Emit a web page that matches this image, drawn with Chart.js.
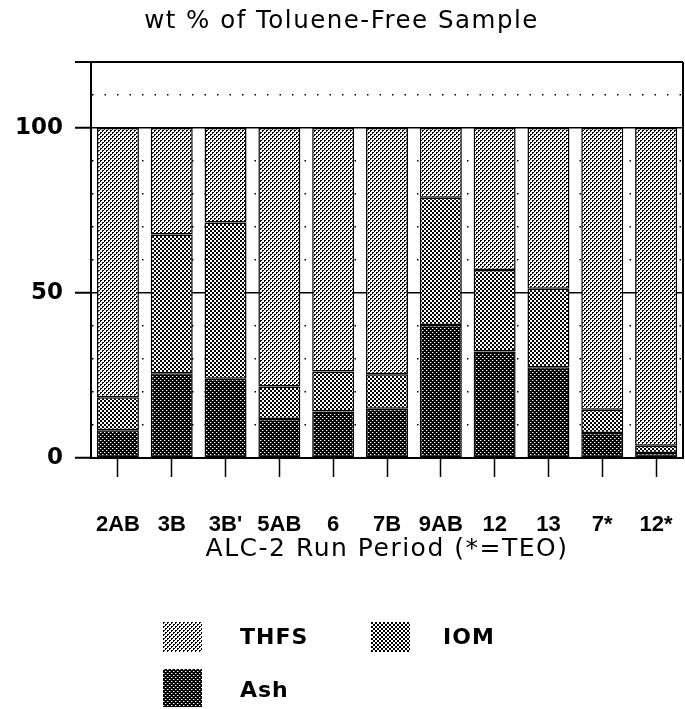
<!DOCTYPE html>
<html>
<head>
<meta charset="utf-8">
<script src="https://cdn.jsdelivr.net/npm/chart.js@4/dist/chart.umd.min.js"></script>
<style>
  html, body { margin: 0; padding: 0; background: #fff; }
  #wrap { position: relative; width: 685px; height: 709px; }
  #chart { position: absolute; left: 0; top: 0; }
  .lg-box { position: absolute; width: 39px; height: 30px; }
  .lg-txt { position: absolute; font: bold 22px 'DejaVu Sans', sans-serif; color: #000; line-height: 30px; letter-spacing: 1px; }
</style>
</head>
<body>
<div id="wrap">
  <canvas id="chart" width="685" height="709"></canvas>
  <div class="lg-box" id="lg-thfs" style="left:163px;top:622px"></div>
  <div class="lg-txt" style="left:240px;top:622px">THFS</div>
  <div class="lg-box" id="lg-iom" style="left:371px;top:622px"></div>
  <div class="lg-txt" style="left:443px;top:622px">IOM</div>
  <div class="lg-box" id="lg-ash" style="left:163px;top:669px;height:38px"></div>
  <div class="lg-txt" style="left:240px;top:675px">Ash</div>
</div>
<script>
const periods = ['2AB', '3B', "3B'", '5AB', '6', '7B', '9AB', '12', '13', '7*', '12*'];
const ash  = [8.4, 25.7, 24.0, 11.8, 14.1, 14.9, 40.3, 32.3, 27.5, 7.6, 1.5];
const iom  = [10.0, 42.0, 47.4, 9.9, 12.1, 10.5, 38.6, 24.7, 23.8, 7.0, 2.2];
const thfs = [81.6, 32.3, 28.6, 78.3, 73.8, 74.6, 21.1, 43.0, 48.7, 85.4, 96.3];
const yLabelled = [0, 50, 100];

// 4x4 halftone cells, value = ink (0 white .. 1 black)
function makePattern(bits) {
  const c = document.createElement('canvas');
  c.width = 4; c.height = 4;
  const g = c.getContext('2d');
  bits.forEach((row, y) => row.forEach((b, x) => {
    const v = Math.round(255 * (1 - b));
    g.fillStyle = `rgb(${v},${v},${v})`;
    g.fillRect(x, y, 1, 1);
  }));
  return c;
}
const cellThfs = makePattern([[1,1,0,0],[1,0,0,0],[0,0,1,1],[0,0,1,0]]);
const cellIom  = makePattern([[1,1,0,0],[1,1,0,0],[0,0,1,1],[0,0,1,1]]);
const cellAsh  = makePattern([[0,0.6,1,1],[1,1,1,1],[1,1,0,0.6],[1,1,1,1]]);

const ctx = document.getElementById('chart').getContext('2d');
const patThfs = ctx.createPattern(cellThfs, 'repeat');
const patIom  = ctx.createPattern(cellIom, 'repeat');
const patAsh  = ctx.createPattern(cellAsh, 'repeat');

[['lg-thfs', cellThfs], ['lg-iom', cellIom], ['lg-ash', cellAsh]].forEach(([id, c]) => {
  document.getElementById(id).style.background = `url(${c.toDataURL()}) repeat`;
});

// old typeset look: wider spacing on the two titles; tick labels (z=1) drawn plain
const frame = {
  id: 'frame',
  beforeDraw(chart) { chart.ctx.letterSpacing = '1.5px'; },
  afterDatasetsDraw(chart) {
    const { ctx, chartArea: a } = chart;
    ctx.letterSpacing = '0px';
    ctx.save();
    ctx.strokeStyle = '#000';
    ctx.lineWidth = 2;
    ctx.beginPath();
    ctx.moveTo(a.right, a.top);
    ctx.lineTo(a.right, a.bottom);
    ctx.stroke();
    ctx.restore();
  }
};

const barStyle = { borderColor: '#000', borderWidth: 1.5, borderSkipped: false, barPercentage: 0.78, categoryPercentage: 1 };

new Chart(ctx, {
  type: 'bar',
  data: {
    labels: periods,
    datasets: [
      { label: 'Ash',  data: ash,  backgroundColor: patAsh,  ...barStyle },
      { label: 'IOM',  data: iom,  backgroundColor: patIom,  ...barStyle },
      { label: 'THFS', data: thfs, backgroundColor: patThfs, ...barStyle }
    ]
  },
  options: {
    responsive: false,
    animation: false,
    layout: { padding: { left: 0, right: 2, top: 0, bottom: 145 } },
    plugins: {
      legend: { display: false },
      tooltip: { enabled: false },
      title: {
        display: true,
        text: 'wt % of Toluene-Free Sample',
        color: '#000',
        font: { family: 'DejaVu Sans', size: 24.5, weight: 'normal', lineHeight: 1.2 },
        padding: { top: 7, bottom: 25.6 }
      }
    },
    scales: {
      x: {
        stacked: true,
        afterFit: s => { s.height = 106; s.paddingLeft = 0; s.paddingRight = 0; },
        border: { color: '#000', width: 2 },
        grid: { display: true, drawOnChartArea: false, offset: false, tickLength: 19, tickColor: '#000', tickWidth: 1.5 },
        ticks: { z: 1, color: '#000', padding: 35, maxRotation: 0, autoSkip: false, font: { family: 'Liberation Sans', size: 22, weight: 'bold' } },
        title: { display: true, text: 'ALC-2 Run Period (*=TEO)', color: '#000', padding: 0, font: { family: 'DejaVu Sans', size: 25, weight: 'normal' } }
      },
      y: {
        stacked: true,
        min: 0, max: 120,
        afterFit: s => { s.width = 91; },
        border: {
          color: '#000', width: 2,
          dash: c => (c.tick && c.tick.value % 50 !== 0 && c.tick.value !== 120) ? [1.5, 11] : []
        },
        grid: {
          color: '#000',
          lineWidth: c => (c.tick && c.tick.value === 120) ? 2 : 1.5,
          tickLength: 16,
          tickWidth: 2,
          tickColor: c => (c.tick && (yLabelled.includes(c.tick.value) || c.tick.value === 120)) ? '#000' : 'rgba(0,0,0,0)'
        },
        ticks: {
          z: 1,
          stepSize: 10,
          padding: 12,
          color: '#000',
          font: { family: 'DejaVu Sans', size: 23, weight: 'bold' },
          callback: v => yLabelled.includes(v) ? String(v) : ''
        }
      }
    }
  },
  plugins: [frame]
});
</script>
</body>
</html>
